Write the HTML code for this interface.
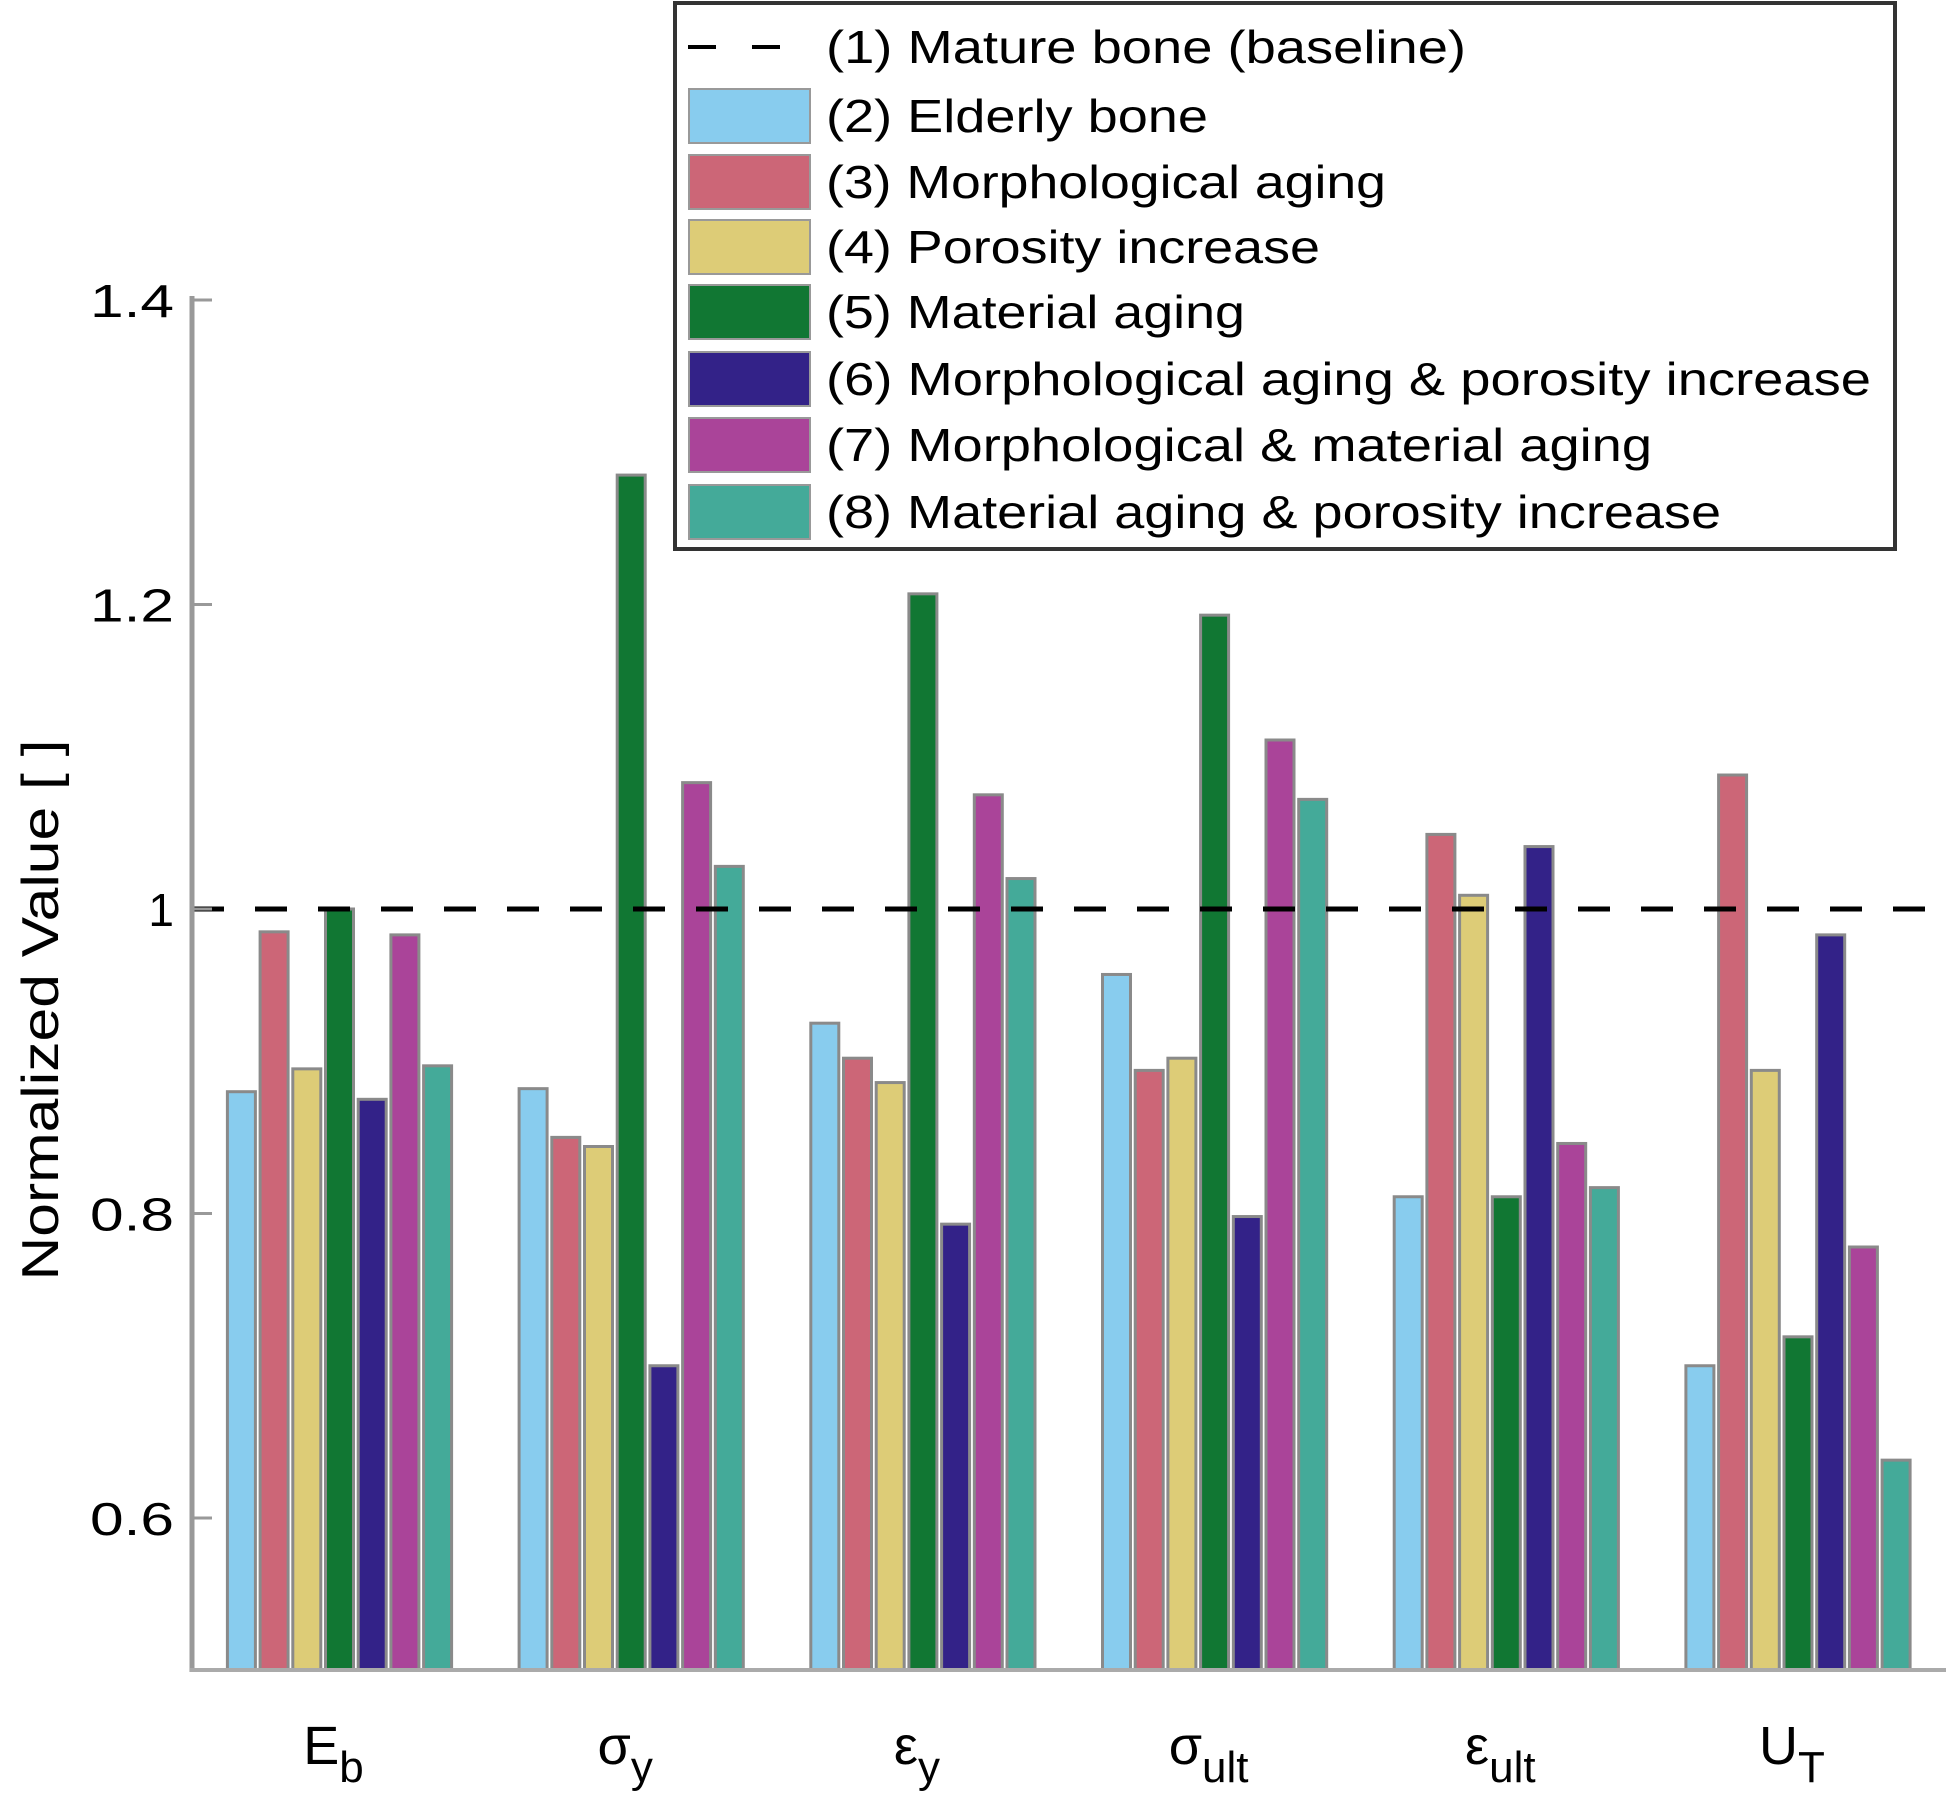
<!DOCTYPE html>
<html><head><meta charset="utf-8"><style>
html,body{margin:0;padding:0;background:#fff;}
svg{display:block;font-family:"Liberation Sans",Arial,sans-serif;}
</style></head><body>
<svg id="chart" width="1950" height="1805" viewBox="0 0 1950 1805" xmlns="http://www.w3.org/2000/svg">
<g id="bars"></g>
<g id="axes"></g>
<text transform="translate(58,1010) rotate(-90)" text-anchor="middle" font-size="52" textLength="541" lengthAdjust="spacingAndGlyphs">Normalized Value [ ]</text>
<g id="legend"></g>
</svg>
<script>
const categories = ["E","σ","ε","σ","ε","U"];
const subscripts = ["b","y","y","ult","ult","T"];
const seriesNames = ["(2) Elderly bone","(3) Morphological aging","(4) Porosity increase","(5) Material aging","(6) Morphological aging & porosity increase","(7) Morphological & material aging","(8) Material aging & porosity increase"];
const seriesColors = ["#88CCEE","#CC6677","#DDCC77","#117733","#332288","#AA4499","#44AA99"];
const elderly = [0.88,0.882,0.925,0.957,0.811,0.70];
const morph = [0.985,0.85,0.902,0.894,1.049,1.088];
const poros = [0.895,0.844,0.886,0.902,1.009,0.894];
const material = [1.0,1.285,1.207,1.193,0.811,0.719];
const morphPoros = [0.875,0.70,0.793,0.798,1.041,0.983];
const morphMaterial = [0.983,1.083,1.075,1.111,0.846,0.778];
const materialPoros = [0.897,1.028,1.02,1.072,0.817,0.638];
const baseline = 1.0;
const yTicks = [0.6,0.8,1.0,1.2,1.4];
const yTickLabels = ["0.6","0.8","1","1.2","1.4"];

const series = [elderly,morph,poros,material,morphPoros,morphMaterial,materialPoros];
const NS="http://www.w3.org/2000/svg";
const X0=192, X1=1946, Ybot=1670;
function yScale(v){ return 1518 - (v-0.6)/0.2*304.5; }
const groupPitch=291.7, firstCenter=339.5, barPitch=32.7, barW=28;
function xCenter(i){ return firstCenter + i*groupPitch; }
function mk(tag,attrs,parent){const e=document.createElementNS(NS,tag);for(const k in attrs)e.setAttribute(k,attrs[k]);parent.appendChild(e);return e;}

const bars=document.getElementById('bars');
series.forEach((vals,s)=>{
  vals.forEach((v,i)=>{
    const x=xCenter(i)+(s-3)*barPitch-barW/2;
    const y=yScale(v);
    const r=mk('rect',{x:x,y:y,width:barW,height:Ybot-y,fill:seriesColors[s],stroke:'#8a8a8a','stroke-width':3},bars);
    
    
  });
});

const axes=document.getElementById('axes');
const base=mk('line',{x1:X0,x2:X1,y1:yScale(baseline),y2:yScale(baseline),stroke:'#000','stroke-width':5,'stroke-dasharray':'32 31'},axes);


const ya=mk('line',{x1:X0,x2:X0,y1:296,y2:Ybot+2,stroke:'#999','stroke-width':5},axes);


const xa=mk('line',{x1:X0-2,x2:X1,y1:Ybot,y2:Ybot,stroke:'#aaa','stroke-width':4},axes);


yTicks.forEach((t,i)=>{
  const y=yScale(t);
  const tk=mk('line',{x1:X0,x2:X0+20,y1:y,y2:y,stroke:'#999','stroke-width':3},axes);
  
  
  const lbl=yTickLabels[i];
  const tx=mk('text',{x:174,y:y+17,'text-anchor':'end','font-size':46},axes);
  tx.textContent=lbl;
  if(lbl.length===3){tx.setAttribute('textLength',84);tx.setAttribute('lengthAdjust','spacingAndGlyphs');}
  
  
});
categories.forEach((c,i)=>{
  const t=mk('text',{x:xCenter(i)-6,y:1764,'text-anchor':'middle','font-size':54},axes);
  t.textContent=c;
  const sub=mk('tspan',{'font-size':44,dy:18},t);
  sub.textContent=subscripts[i];
  
  
});

const lg=document.getElementById('legend');
const box=mk('rect',{x:675,y:3,width:1220,height:546,fill:'#fff',stroke:'#333','stroke-width':4},lg);


const rowY=[47,116,182,247,312,379,445,512];
const textW=[640,382,560,494,419,1045,826,895];
const dl=mk('line',{x1:688,x2:790,y1:rowY[0],y2:rowY[0],stroke:'#000','stroke-width':4,'stroke-dasharray':'28 36'},lg);


const t0=mk('text',{x:826,y:rowY[0]+16,'font-size':46,textLength:textW[0],lengthAdjust:'spacingAndGlyphs'},lg);
t0.textContent="(1) Mature bone (baseline)";


seriesNames.forEach((n,s)=>{
  const y=rowY[s+1];
  const r=mk('rect',{x:689,y:y-27,width:121,height:54,fill:seriesColors[s],stroke:'#999','stroke-width':2},lg);
  
  
  const t=mk('text',{x:826,y:y+16,'font-size':46,textLength:textW[s+1],lengthAdjust:'spacingAndGlyphs'},lg);
  t.textContent=n;
  
  
});
</script>
</body></html>
